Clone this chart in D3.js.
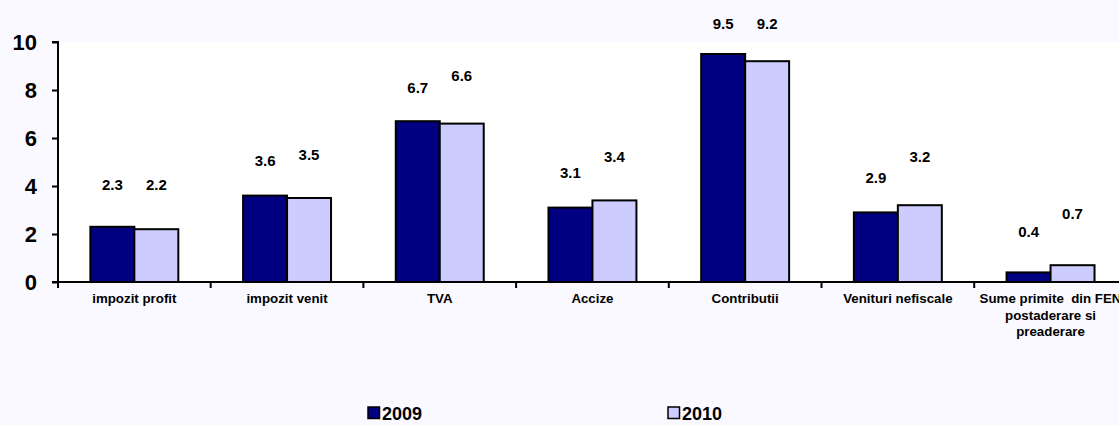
<!DOCTYPE html>
<html><head><meta charset="utf-8">
<script src="https://cdn.jsdelivr.net/npm/d3@7/dist/d3.min.js"></script>
<style>
html,body{margin:0;padding:0;background:#f9f9ff;overflow:hidden;}
text{font-family:"Liberation Sans",Arial,sans-serif;font-weight:bold;fill:#000;}
</style></head>
<body><svg id="c" width="1119" height="425"></svg>
<script>
const categories = [
  ["impozit profit"],
  ["impozit venit"],
  ["TVA"],
  ["Accize"],
  ["Contributii"],
  ["Venituri nefiscale"],
  ["Sume primite  din FEN", "postaderare si", "preaderare"]
];
const seriesNames = ["2009", "2010"];
const values2009 = [2.3, 3.6, 6.7, 3.1, 9.5, 2.9, 0.4];
const values2010 = [2.2, 3.5, 6.6, 3.4, 9.2, 3.2, 0.7];
// height (in axis units) at which each value label sits in the picture
const labelAt2009 = [4.04, 5.04, 8.12, 4.54, 10.77, 4.37, 2.12];
const labelAt2010 = [4.04, 5.29, 8.62, 5.21, 10.77, 5.21, 2.83];
const yTicks = [0, 2, 4, 6, 8, 10];
const colors = ["#000080", "#ccccff"];

const svg = d3.select("#c");
const pLeft = 58, pTop = 42, pBottom = 282, step = 152.7;
const pRight = pLeft + step * categories.length;

const x = d3.scaleBand().domain(d3.range(categories.length)).range([pLeft, pRight])
  .paddingInner(0.424).paddingOuter(0.212);
const xs = d3.scaleBand().domain(seriesNames).range([0, x.bandwidth()]);
const y = d3.scaleLinear().domain([0, 10]).range([pBottom, pTop]);

// plot area
svg.append("rect").attr("x", pLeft).attr("y", pTop).attr("width", pRight - pLeft).attr("height", pBottom - pTop).attr("fill", "#ffffff");

const series = [values2009, values2010];
const labelAt = [labelAt2009, labelAt2010];
series.forEach((vals, si) => {
  const g = svg.append("g");
  g.selectAll("rect").data(vals).join("rect")
    .attr("x", (d, i) => x(i) + xs(seriesNames[si]))
    .attr("y", d => y(d))
    .attr("width", xs.bandwidth())
    .attr("height", d => y(0) - y(d))
    .attr("fill", colors[si]).attr("stroke", "#000").attr("stroke-width", 2);
  g.selectAll("text").data(vals).join("text")
    .attr("x", (d, i) => x(i) + xs(seriesNames[si]) + xs.bandwidth() / 2)
    .attr("y", (d, i) => y(labelAt[si][i]))
    .attr("dy", "0.36em")
    .attr("text-anchor", "middle").attr("font-size", 15)
    .text(d => d.toFixed(1));
});

// y axis
const yAxis = d3.axisLeft(y).tickValues(yTicks).tickSize(6).tickPadding(15).tickFormat(d3.format("d"));
const ya = svg.append("g").attr("transform", `translate(${pLeft},0)`).call(yAxis);
ya.select(".domain").attr("stroke", "#000").attr("stroke-width", 2).attr("d", `M-6,${pTop}H0V${pBottom}`);
ya.selectAll(".tick line").attr("stroke", "#000").attr("stroke-width", 2);
ya.selectAll(".tick text").attr("font-size", 22).attr("font-family", "Liberation Sans, Arial, sans-serif").attr("font-weight", "bold").attr("fill", "#000");

// x axis baseline and ticks
const xa = svg.append("g");
xa.append("line").attr("x1", pLeft - 6).attr("x2", 1119).attr("y1", pBottom).attr("y2", pBottom).attr("stroke", "#000").attr("stroke-width", 2);
xa.selectAll("line.t").data(d3.range(categories.length + 1)).join("line").attr("class", "t")
  .attr("x1", i => pLeft + i * x.step()).attr("x2", i => pLeft + i * x.step())
  .attr("y1", pBottom).attr("y2", pBottom + 6).attr("stroke", "#000").attr("stroke-width", 2);
categories.forEach((lines, i) => {
  const cx = x(i) + x.bandwidth() / 2;
  const t = xa.append("text").attr("text-anchor", "middle").attr("font-size", 13.3)
    .attr("x", cx).attr("y", 303);
  lines.forEach((ln, k) => {
    t.append("tspan").attr("x", cx).attr("dy", k === 0 ? 0 : 16.5)
      .style("white-space", "pre").text(ln);
  });
});

// legend
const legendX = [368, 668];
seriesNames.forEach((n, i) => {
  svg.append("rect").attr("x", legendX[i]).attr("y", 407).attr("width", 11.5).attr("height", 11.5)
    .attr("fill", colors[i]).attr("stroke", "#000").attr("stroke-width", 1.5);
  svg.append("text").attr("x", legendX[i] + 14).attr("y", 420).attr("font-size", 18).text(n);
});
</script></body></html>
